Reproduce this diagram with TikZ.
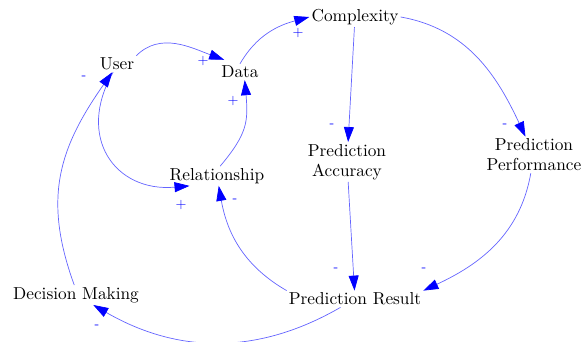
\documentclass[tikz,border=0pt]{standalone}
\usepackage{fontspec}
\setmainfont{lmroman10-regular.otf}
\usetikzlibrary{arrows.meta}

\begin{document}
\begin{tikzpicture}[x=1pt,y=1pt,
  var/.style={inner sep=2pt, align=center, font=\fontsize{17.3}{20}\selectfont},
  link/.style={draw={rgb,255:red,100;green,100;blue,255}, line width=0.7pt,
    -{Triangle[length=15pt,width=10pt,color=blue]}},
  sign/.style={text=blue, inner sep=0pt, font=\fontsize{14}{14}\selectfont}]
\useasboundingbox (0,0) rectangle (582,-342);
% variables
\node[var] (user) at (117,-64) {User};
\node[var] (data) at (240,-72) {Data};
\node[var] (cplx) at (355,-17) {Complexity};
\node[var] (rel) at (217,-176) {Relationship};
\node[var] (acc) at (347,-162) {Prediction\\Accuracy};
\node[var] (perf) at (534,-155) {Prediction\\Performance};
\node[var] (dec) at (76,-295) {Decision Making};
\node[var] (res) at (355,-299) {Prediction Result};
% links
\draw[link] (user.north east) to[out=45,in=160] ([shift={(5pt,4pt)}]data.north west);
\draw[link] (data.north) to[out=60,in=195] (cplx.west);
\draw[link] (rel.72) to[out=50,in=-85,looseness=1.2] (data.-60);
\draw[link] (user.-115) to[out=-120,in=185,looseness=1.4] ([xshift=22pt]rel.south west);
\draw[link] (cplx) -- (acc);
\draw[link] (cplx.east) to[out=-10,in=115] (perf);
\draw[link] (acc) -- (res);
\draw[link] (perf) to[out=-100,in=25] (res.north east);
\draw[link] (res.north west) to[out=150,in=-80] (rel);
\draw[link] (res) to[out=-150,in=-30] (dec);
\draw[link] (dec.100) to[out=110,in=-125,looseness=1.1] (user.-120);
% polarities
\node[sign] (s1) at (203,-61) {+};
\node[sign] (s2) at (298,-33) {+};
\node[sign] (s3) at (233,-101) {+};
\node[sign] (s4) at (181,-205) {+};
\node[sign] (s5) at (332,-126) {-};
\node[sign] (s6) at (505,-126) {-};
\node[sign] (s7) at (336,-270) {-};
\node[sign] (s8) at (424,-270) {-};
\node[sign] (s9) at (235,-201) {-};
\node[sign] (s10) at (97,-327) {-};
\node[sign] (s11) at (84,-78) {-};
\end{tikzpicture}
\end{document}
